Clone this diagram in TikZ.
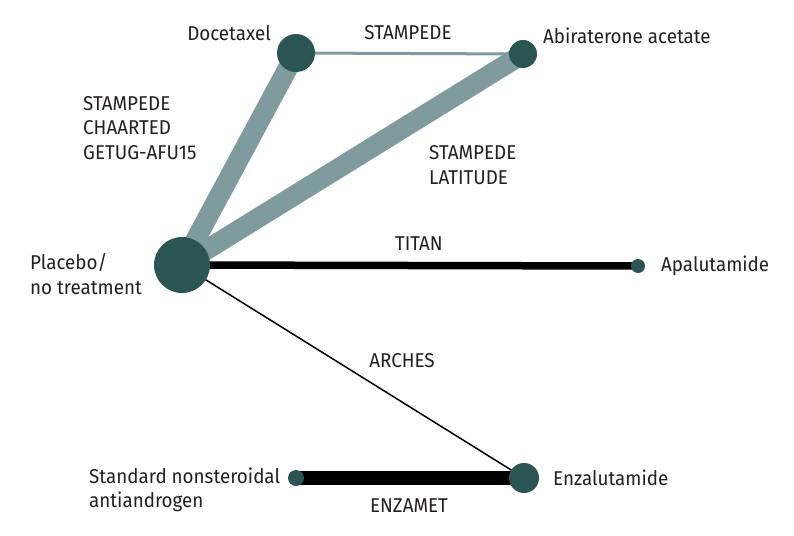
\documentclass[tikz,border=0pt]{standalone}
\usepackage{fontspec}
\setmainfont{Fira Sans}[FakeStretch=0.94]
\usetikzlibrary{positioning,backgrounds}
\definecolor{nodeteal}{HTML}{2A5552}
\definecolor{edgegray}{HTML}{809B9D}
\definecolor{inkblack}{HTML}{231F20}
\tikzset{
  treat/.style={circle, fill=nodeteal, inner sep=0pt, minimum size=#1},
  lbl/.style={font=\fontsize{20}{24.5}\selectfont, text=inkblack, inner sep=0pt, align=left},
}
\newcommand{\grayedge}[3]{\draw[edgegray, line width=#3] (#1.center) -- (#2.center);}
\newcommand{\blackedge}[3]{\draw[black, line width=#3] (#1.center) -- (#2.center);}

\begin{document}
\begin{tikzpicture}[x=1pt, y=-1pt]
	\useasboundingbox (0,0) rectangle (794,535);

	% treatments
	\node[treat=38pt] (doce) at (296,53) {};
	\node[treat=28pt] (abi) at (523,54) {};
	\node[treat=56pt] (plac) at (182,265) {};
	\node[treat=14pt] (apa) at (638,266) {};
	\node[treat=30pt] (enza) at (524,478) {};
	\node[treat=16pt] (nsaa) at (296,478) {};

	% trials
	\begin{scope}[on background layer]
		\grayedge{plac}{doce}{20pt}
		\grayedge{plac}{abi}{20pt}
		\grayedge{doce}{abi}{3pt}
		\blackedge{plac}{apa}{7.5pt}
		\blackedge{plac}{enza}{1.5pt}
		\blackedge{nsaa}{enza}{13.5pt}
	\end{scope}

	% names
	\node[lbl, anchor=east] (doceL) at (271,33) {Docetaxel};
	\node[lbl, anchor=west] (abiL) at (543,36) {Abiraterone acetate};
	\node[lbl, anchor=west] (placL) at (30,274) {Placebo/\\no treatment};
	\node[lbl, anchor=west] (apaL) at (661,266) {Apalutamide};
	\node[lbl, anchor=west] (enzaL) at (553,478) {Enzalutamide};
	\node[lbl, anchor=west] (nsaaL) at (89,490) {Standard nonsteroidal\\antiandrogen};

	% trial names
	\node[lbl] (t1) at (408,33) {STAMPEDE};
	\node[lbl, anchor=west] (t2) at (83,128) {STAMPEDE\\CHAARTED\\GETUG-AFU15};
	\node[lbl, anchor=west] (t3) at (429,165) {STAMPEDE\\LATITUDE};
	\node[lbl] (t4) at (419,244) {TITAN};
	\node[lbl] (t5) at (402,361) {ARCHES};
	\node[lbl] (t6) at (409,506) {ENZAMET};
\end{tikzpicture}
\end{document}
